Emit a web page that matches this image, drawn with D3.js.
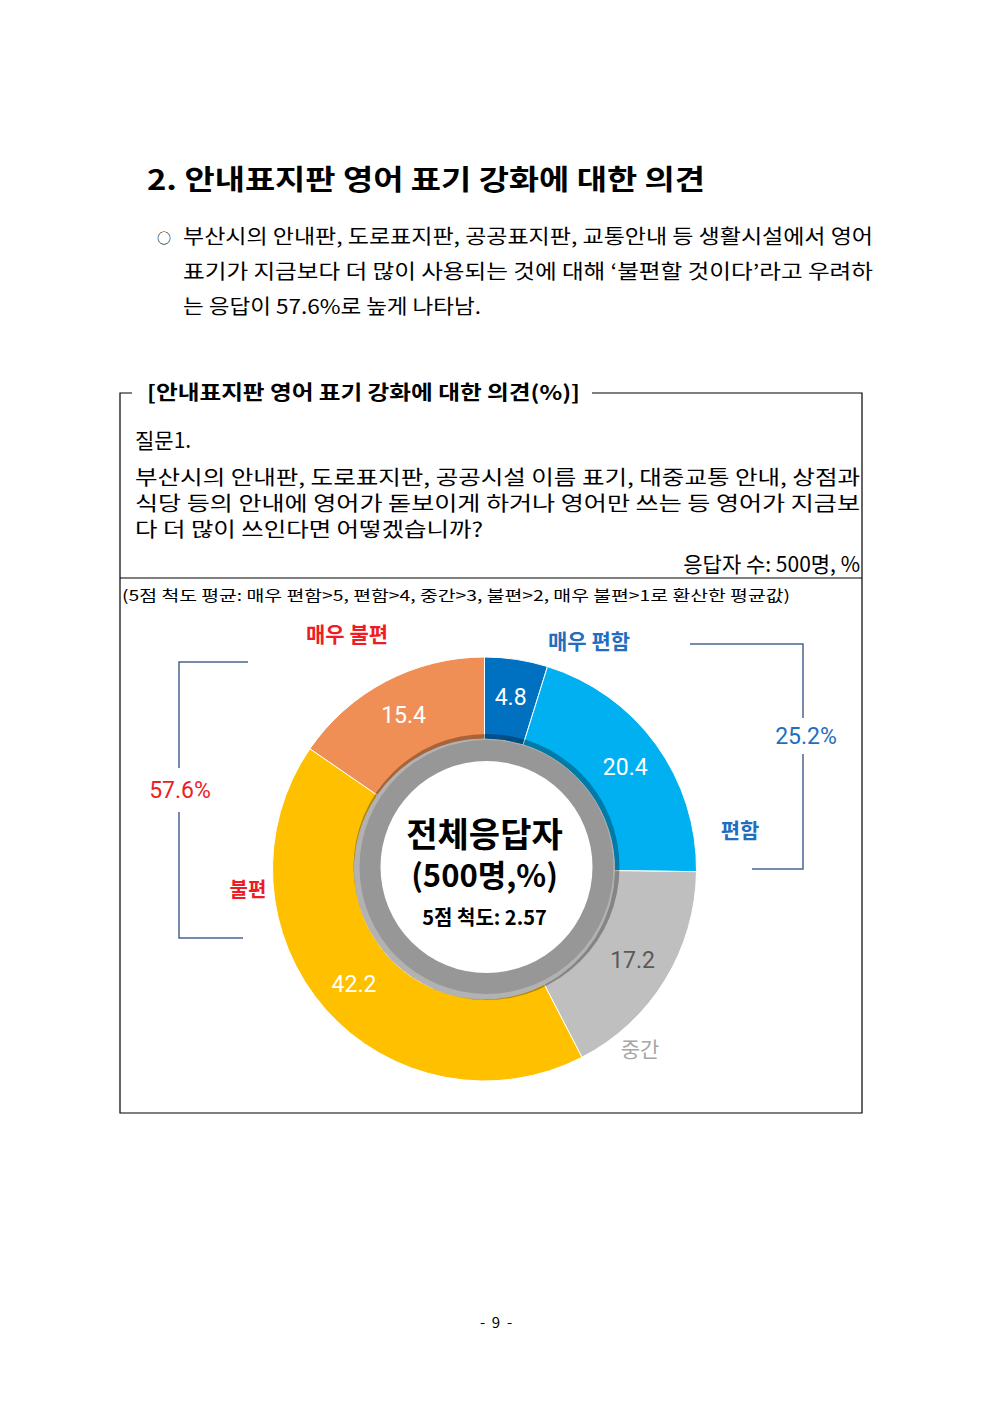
<!DOCTYPE html>
<html>
<head>
<meta charset="utf-8">
<script src="https://cdn.jsdelivr.net/npm/d3@7"></script>
<style>
  body { margin: 0; background: #fff; }
  svg { display: block; }
  .kr { font-family: "Noto Sans CJK KR", "Noto Sans", sans-serif; }
</style>
</head>
<body>
<div id="chart"></div>
<script>
// data
var categories = ["매우 편함", "편함", "중간", "불편", "매우 불편"];
var values = [4.8, 20.4, 17.2, 42.2, 15.4];
var colors = ["#0070C0", "#00B0F0", "#BFBFBF", "#FFC000", "#EF8F55"];
var labelColors = ["#fff", "#fff", "#595959", "#fff", "#fff"];
var groupLabels = ["25.2%", "57.6%"];
var centerLines = ["전체응답자", "(500명,%)", "5점 척도: 2.57"];

var W = 992, H = 1403;
var svg = d3.select("#chart").append("svg")
    .attr("width", W).attr("height", H)
    .attr("class", "kr");

// page text
svg.append("text")
    .attr("x", 147).attr("y", 190)
    .attr("font-size", 28).attr("font-weight", 700)
    .attr("textLength", 558).attr("lengthAdjust", "spacingAndGlyphs")
    .text("2. 안내표지판 영어 표기 강화에 대한 의견");

svg.append("text").attr("x", 157).attr("y", 243).attr("font-size", 14).text("○");
var para = [
  ["부산시의 안내판, 도로표지판, 공공표지판, 교통안내 등 생활시설에서 영어", 690],
  ["표기가 지금보다 더 많이 사용되는 것에 대해 ‘불편할 것이다’라고 우려하", 690],
  ["는 응답이 57.6%로 높게 나타남.", 298]
];
para.forEach(function(p, i) {
  svg.append("text")
    .attr("x", 183).attr("y", 244 + i * 35)
    .attr("font-size", 20)
    .attr("textLength", p[1]).attr("lengthAdjust", "spacingAndGlyphs")
    .text(p[0]);
});

// box
var box = svg.append("g");
box.append("path")
    .attr("d", "M132,393 H120 V1113 H862 V393 H592")
    .attr("fill", "none").attr("stroke", "#000").attr("stroke-width", 1.2);
box.append("line").attr("x1", 120).attr("x2", 862).attr("y1", 578).attr("y2", 578)
    .attr("stroke", "#000").attr("stroke-width", 1.2);
box.append("text")
    .attr("x", 147).attr("y", 400)
    .attr("font-size", 20).attr("font-weight", 700)
    .attr("textLength", 433).attr("lengthAdjust", "spacingAndGlyphs")
    .text("[안내표지판 영어 표기 강화에 대한 의견(%)]");
box.append("text").attr("x", 135).attr("y", 448).attr("font-size", 21).text("질문1.");
var q = [
  ["부산시의 안내판, 도로표지판, 공공시설 이름 표기, 대중교통 안내, 상점과", 725],
  ["식당 등의 안내에 영어가 돋보이게 하거나 영어만 쓰는 등 영어가 지금보", 725],
  ["다 더 많이 쓰인다면 어떻겠습니까?", 348]
];
q.forEach(function(p, i) {
  box.append("text")
    .attr("x", 135).attr("y", 485 + i * 26)
    .attr("font-size", 20)
    .attr("textLength", p[1]).attr("lengthAdjust", "spacingAndGlyphs")
    .text(p[0]);
});
box.append("text").attr("x", 860).attr("y", 572).attr("font-size", 21)
    .attr("text-anchor", "end").text("응답자 수: 500명, %");
box.append("text").attr("x", 122).attr("y", 601).attr("font-size", 15)
    .attr("textLength", 668).attr("lengthAdjust", "spacingAndGlyphs")
    .text("(5점 척도 평균: 매우 편함>5, 편함>4, 중간>3, 불편>2, 매우 불편>1로 환산한 평균값)");

// donut
var cx = 484.5, cy = 869, R = 212, r0 = 130;
var g = svg.append("g").attr("transform", "translate(" + cx + "," + cy + ")");
var pie = d3.pie().sort(null).value(function(d) { return d; });
var arcs = pie(values);
var arc = d3.arc().innerRadius(r0).outerRadius(R);
var labelArc = d3.arc().innerRadius(174).outerRadius(174);

g.selectAll("path.slice")
    .data(arcs)
    .enter()
    .append("path")
    .attr("class", "slice")
    .attr("d", arc)
    .attr("fill", function(d, i) { return colors[i]; })
    .attr("stroke", "#fff").attr("stroke-width", 1);

// ring shadow + gray ring + white hole
g.append("circle").attr("cx", 2).attr("cy", -2).attr("r", 133)
    .attr("fill", "#000").attr("opacity", 0.3);
g.append("circle").attr("cx", 2).attr("cy", -2).attr("r", 127).attr("fill", "#979797");
g.append("circle").attr("cx", 2).attr("cy", -2).attr("r", 106).attr("fill", "#fff");

g.selectAll("text.val")
    .data(arcs)
    .enter()
    .append("text")
    .attr("class", "val")
    .attr("transform", function(d) { return "translate(" + labelArc.centroid(d) + ")"; })
    .attr("text-anchor", "middle").attr("dy", "0.35em")
    .attr("font-family", "Roboto, sans-serif")
    .attr("font-size", 23)
    .attr("fill", function(d, i) { return labelColors[i]; })
    .text(function(d) { return d.data.toFixed(1); });

// center text
g.append("text").attr("y", -34).attr("text-anchor", "middle").attr("dy", "0.35em")
    .attr("font-size", 34).attr("font-weight", 700).text(centerLines[0]);
g.append("text").attr("y", 7).attr("text-anchor", "middle").attr("dy", "0.35em")
    .attr("font-size", 31).attr("font-weight", 700).text(centerLines[1]);
g.append("text").attr("y", 49).attr("text-anchor", "middle").attr("dy", "0.35em")
    .attr("font-size", 20).attr("font-weight", 700).text(centerLines[2]);

// category labels
var red = "#EE1C25", blue = "#1F6EBF", bracket = "#4A6491";
function lab(x, y, t, c, s, w) {
  svg.append("text").attr("x", x).attr("y", y).attr("text-anchor", "middle")
     .attr("dy", "0.35em").attr("font-size", s).attr("font-weight", w)
     .attr("fill", c).text(t);
}
lab(347, 635, categories[4], red, 21, 700);
lab(589, 642, categories[0], blue, 21, 700);
lab(740, 831, categories[1], blue, 21, 700);
lab(640, 1050, categories[2], "#A6A6A6", 21, 400);
lab(248, 890, categories[3], red, 20, 700);

// brackets
svg.append("path").attr("d", "M248,662 H179 V768 M179,812 V938 H243")
    .attr("fill", "none").attr("stroke", bracket).attr("stroke-width", 1.5);
svg.append("path").attr("d", "M690,644 H803 V718 M803,754 V869 H752")
    .attr("fill", "none").attr("stroke", bracket).attr("stroke-width", 1.5);
svg.append("text").attr("x", 180).attr("y", 790).attr("text-anchor", "middle").attr("dy", "0.35em")
    .attr("font-family", "Roboto, sans-serif").attr("font-size", 23).attr("fill", red).text(groupLabels[1]);
svg.append("text").attr("x", 806).attr("y", 736).attr("text-anchor", "middle").attr("dy", "0.35em")
    .attr("font-family", "Roboto, sans-serif").attr("font-size", 23).attr("fill", blue).text(groupLabels[0]);

// page number
svg.append("text").attr("x", 496).attr("y", 1323).attr("text-anchor", "middle").attr("dy", "0.35em")
    .attr("font-size", 15).style("white-space", "pre").text("-  9  -");
</script>
</body>
</html>
